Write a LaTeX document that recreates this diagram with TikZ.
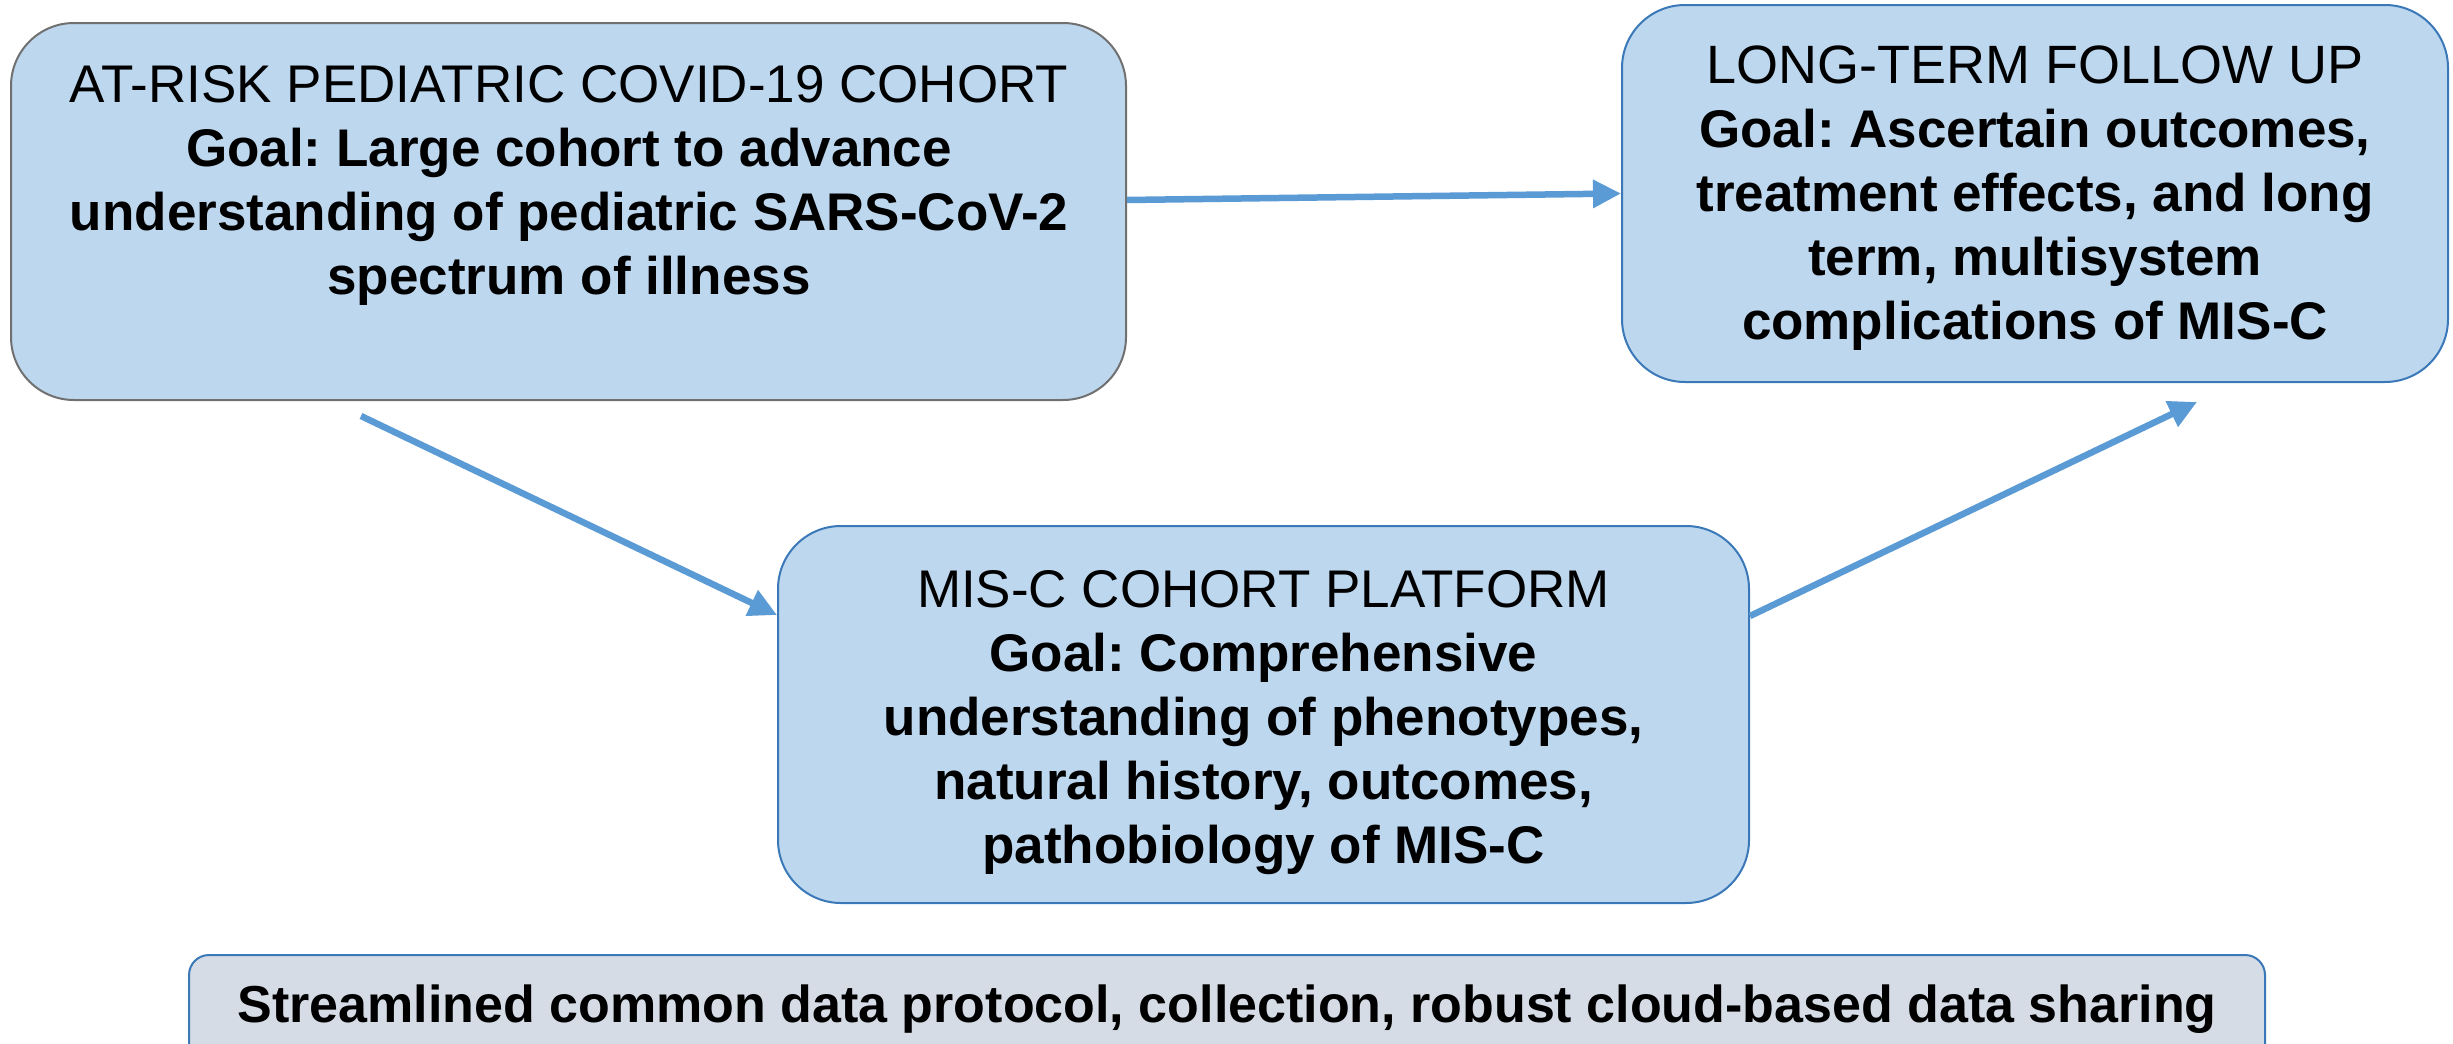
\documentclass[tikz,border=0pt]{standalone}
\usepackage{fontspec}
\setmainfont{Liberation Sans}
\usetikzlibrary{arrows.meta,calc}
\definecolor{boxfill}{HTML}{BDD7EE}
\definecolor{grayline}{HTML}{707070}
\definecolor{blueline}{HTML}{3A78B8}
\definecolor{arrowblue}{HTML}{5B9BD5}
\definecolor{barfill}{HTML}{D6DCE5}
\frenchspacing
\begin{document}
\frenchspacing
\begin{tikzpicture}[x=1pt,y=-1pt,
  box/.style={draw, line width=2pt, fill=boxfill, rounded corners=63pt, inner sep=0pt},
  barbox/.style={draw=blueline, line width=2pt, fill=barfill, rounded corners=20pt, inner sep=0pt},
  txt/.style={align=center, inner sep=0pt, font=\fontsize{53}{64}\selectfont},
  arr/.style={draw=arrowblue, line width=6.5pt, -{Triangle[length=28pt,width=27pt]}}]
\clip (0,0) rectangle (2453,1044);
\fill[white] (0,0) rectangle (2453,1044);
% boxes
\node[box, draw=grayline, minimum width=1115pt, minimum height=377pt] (b1) at (568.5,211.5) {};
\node[box, draw=blueline, minimum width=826pt, minimum height=377pt] (b2) at (2035,193.5) {};
\node[box, draw=blueline, minimum width=971pt, minimum height=377pt] (b3) at (1263.5,714.5) {};
\node[barbox, minimum width=2076pt, minimum height=140pt, anchor=north] (bar) at (1227,954) {};
% texts
\node[txt] (t1) at (569,185.7) {\strut AT-RISK PEDIATRIC COVID-19 COHORT\\
  \textbf{Goal: Large cohort to advance}\\
  \textbf{understanding of pediatric SARS-CoV-2}\\
  \textbf{spectrum of illness}\strut};
\node[txt] (t2) at (2035,198.2) {\strut{\fontsize{54}{64}\selectfont LONG-TERM FOLLOW UP}\\
  \textbf{Goal: Ascertain outcomes,}\\
  \textbf{treatment effects, and long}\\
  \textbf{term, multisystem}\\
  \textbf{complications of MIS-C}\strut};
\node[txt] (t3) at (1263.5,722.2) {\strut MIS-C COHORT PLATFORM\\
  \textbf{Goal: Comprehensive}\\
  \textbf{understanding of phenotypes,}\\
  \textbf{natural history, outcomes,}\\
  \textbf{pathobiology of MIS-C}\strut};
\node[txt, font=\fontsize{52}{64}\selectfont] (t4) at (1227,1009.2) {\strut\textbf{Streamlined common data protocol, collection, robust cloud-based data sharing}};
% connectors
\coordinate (s2) at (361,416);
\coordinate (e3) at (2197,402);
\draw[arr] ([yshift=11.5pt]b1.east) -- (b2.west);
\draw[arr] (s2) -- ([yshift=99.5pt]b3.west);
\draw[arr] ([yshift=98.5pt]b3.east) -- (e3);
\end{tikzpicture}
\end{document}
